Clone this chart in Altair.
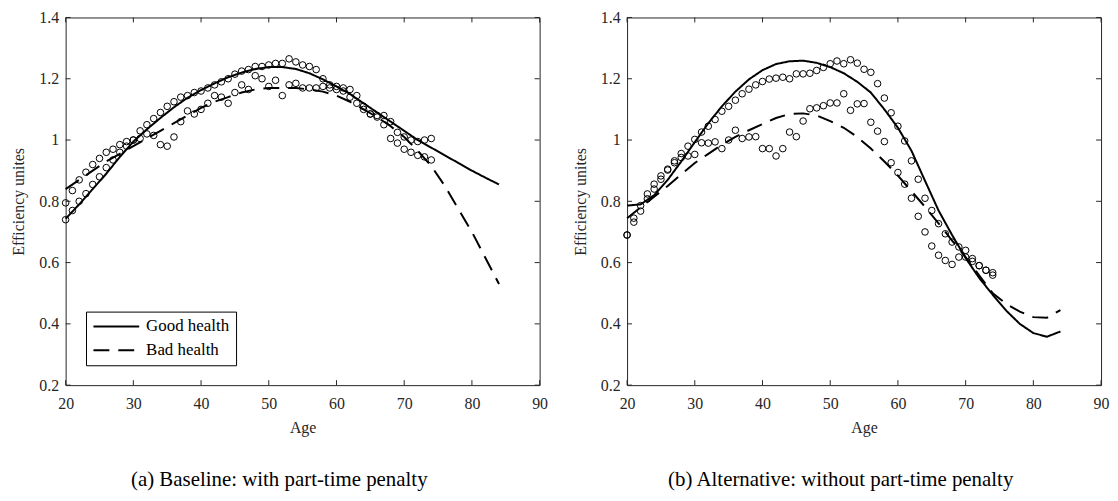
import altair as alt
import pandas as pd

# ---------------- data ----------------
ages_obs = list(range(20, 75))
ages_fit = list(range(20, 85, 2))

# (a) Baseline: with part-time penalty
left_obs_good = [0.74, 0.77, 0.80, 0.825, 0.855, 0.88, 0.91, 0.935, 0.96, 0.98,
                 1.00, 1.03, 1.05, 1.07, 1.09, 1.11, 1.125, 1.14, 1.145, 1.155,
                 1.16, 1.17, 1.18, 1.19, 1.20, 1.215, 1.225, 1.23, 1.24, 1.24,
                 1.245, 1.25, 1.25, 1.265, 1.255, 1.245, 1.24, 1.23, 1.20, 1.18,
                 1.175, 1.17, 1.165, 1.145, 1.11, 1.085, 1.08, 1.08, 1.06, 1.025,
                 1.01, 1.0, 0.995, 1.0, 1.005]
left_obs_bad = [0.795, 0.835, 0.87, 0.895, 0.92, 0.94, 0.96, 0.97, 0.985, 0.995,
                1.0, 1.005, 1.02, 1.015, 0.985, 0.98, 1.01, 1.06, 1.095, 1.085,
                1.10, 1.12, 1.145, 1.14, 1.12, 1.155, 1.18, 1.165, 1.21, 1.20,
                1.175, 1.195, 1.145, 1.18, 1.185, 1.17, 1.17, 1.17, 1.175, 1.17,
                1.165, 1.16, 1.14, 1.12, 1.10, 1.085, 1.075, 1.05, 1.005, 0.99,
                0.97, 0.96, 0.95, 0.945, 0.935]
left_fit_good = [0.743, 0.79, 0.84, 0.89, 0.945, 0.995, 1.035, 1.072, 1.107, 1.138,
                 1.163, 1.185, 1.205, 1.22, 1.232, 1.238, 1.238, 1.232, 1.218, 1.198,
                 1.175, 1.15, 1.12, 1.09, 1.06, 1.03, 1.0, 0.975, 0.95, 0.925,
                 0.9, 0.877, 0.855]
left_fit_bad = [0.84, 0.87, 0.90, 0.93, 0.955, 0.98, 1.005, 1.03, 1.055, 1.08,
                1.105, 1.125, 1.14, 1.155, 1.165, 1.17, 1.17, 1.17, 1.165, 1.158,
                1.145, 1.125, 1.10, 1.075, 1.045, 1.01, 0.965, 0.915, 0.85, 0.775,
                0.70, 0.615, 0.53]

# (b) Alternative: without part-time penalty
right_obs_good = [0.69, 0.745, 0.786, 0.824, 0.856, 0.883, 0.905, 0.932, 0.956, 0.98,
                  1.002, 1.026, 1.045, 1.067, 1.094, 1.11, 1.13, 1.151, 1.166, 1.18,
                  1.191, 1.199, 1.202, 1.205, 1.20, 1.216, 1.216, 1.218, 1.227, 1.237,
                  1.249, 1.258, 1.249, 1.262, 1.251, 1.231, 1.221, 1.184, 1.137, 1.089,
                  1.045, 0.997, 0.932, 0.872, 0.81, 0.77, 0.727, 0.694, 0.667, 0.651,
                  0.64, 0.613, 0.59, 0.575, 0.567]
right_obs_bad = [0.69, 0.732, 0.768, 0.808, 0.84, 0.872, 0.902, 0.926, 0.943, 0.948,
                 0.953, 0.991, 0.99, 0.994, 0.972, 1.0, 1.032, 1.005, 1.01, 1.011,
                 0.972, 0.972, 0.948, 0.972, 1.026, 1.011, 1.062, 1.102, 1.105, 1.112,
                 1.121, 1.121, 1.151, 1.097, 1.118, 1.119, 1.058, 1.029, 0.995, 0.926,
                 0.894, 0.856, 0.81, 0.751, 0.70, 0.654, 0.624, 0.607, 0.594, 0.618,
                 0.618, 0.604, 0.59, 0.575, 0.559]
right_fit_good = [0.786, 0.79, 0.82, 0.87, 0.93, 0.993, 1.055, 1.11, 1.158, 1.198,
                  1.228, 1.248, 1.257, 1.259, 1.252, 1.238, 1.218, 1.19, 1.155, 1.10,
                  1.04, 0.965, 0.867, 0.77, 0.69, 0.615, 0.55, 0.495, 0.443, 0.40,
                  0.37, 0.358, 0.375]
right_fit_bad = [0.745, 0.78, 0.815, 0.85, 0.888, 0.925, 0.955, 0.985, 1.01, 1.032,
                 1.052, 1.072, 1.085, 1.087, 1.08, 1.062, 1.04, 1.01, 0.972, 0.93,
                 0.884, 0.833, 0.782, 0.728, 0.672, 0.618, 0.558, 0.50, 0.465, 0.44,
                 0.422, 0.42, 0.445]

series_names = ["Good health", "Bad health"]
x_ticks = [20, 30, 40, 50, 60, 70, 80, 90]
y_ticks = [0.2, 0.4, 0.6, 0.8, 1.0, 1.2, 1.4]

W, H = 477, 370
TICK = 5
FONT = "Liberation Serif"
AX = "#262626"
NBSP = "\u00a0"


def panel(obs_good, obs_bad, fit_good, fit_bad, caption):
    obs = pd.DataFrame({
        "Age": ages_obs + ages_obs,
        "Value": obs_good + obs_bad,
        "Health": [series_names[0]] * len(ages_obs) + [series_names[1]] * len(ages_obs),
    })
    fit = pd.DataFrame({
        "Age": ages_fit + ages_fit,
        "Value": fit_good + fit_bad,
        "Health": [series_names[0]] * len(ages_fit) + [series_names[1]] * len(ages_fit),
    })
    xt = pd.DataFrame({"tx": x_ticks})
    yt = pd.DataFrame({"ty": y_ticks})
    xs = alt.Scale(domain=[20, 90], nice=False, zero=False)
    ys = alt.Scale(domain=[0.2, 1.4], nice=False, zero=False)
    xaxis = alt.Axis(orient="bottom", values=x_ticks, format="d", ticks=False, domain=False,
                     grid=False, labelPadding=11, title="Age", titlePadding=8, labelFlush=False)
    yaxis = alt.Axis(orient="left", values=y_ticks, format=".1~f", ticks=False, domain=False,
                     grid=False, labelPadding=7, title="Efficiency unites", titlePadding=12,
                     labelFlush=False)

    points = alt.Chart(obs).mark_point(
        shape="circle", filled=False, color="black", size=44, strokeWidth=1, opacity=1
    ).encode(
        x=alt.X("Age:Q", scale=xs, axis=xaxis),
        y=alt.Y("Value:Q", scale=ys, axis=yaxis),
        detail="Health:N",
    )

    lines = alt.Chart(fit).mark_line(color="black", strokeWidth=2).encode(
        x=alt.X("Age:Q", scale=xs, axis=xaxis),
        y=alt.Y("Value:Q", scale=ys, axis=yaxis),
        strokeDash=alt.StrokeDash(
            "Health:N",
            scale=alt.Scale(domain=series_names, range=[[1, 0], [16, 9]]),
            legend=alt.Legend(
                title=None, orient="none", legendX=20.5, legendY=296, direction="vertical",
                strokeColor="black", fillColor="white", padding=6.5,
                symbolType="stroke", symbolSize=2116, symbolStrokeWidth=2,
                symbolStrokeColor="black", labelFont=FONT, labelFontSize=17,
                labelColor="black", rowPadding=6, labelOffset=6, cornerRadius=0,
                clipHeight=17,
                labelExpr="datum.label + '" + NBSP + NBSP + "'",
            ),
        ),
        order="Age:Q",
    )

    rule = dict(color=AX, strokeWidth=1)
    bottom_ticks = alt.Chart(xt).mark_rule(**rule).encode(
        x=alt.X("tx:Q", scale=xs, axis=xaxis), y=alt.value(H), y2=alt.value(H - TICK))
    top_ticks = alt.Chart(xt).mark_rule(**rule).encode(
        x=alt.X("tx:Q", scale=xs, axis=xaxis), y=alt.value(0), y2=alt.value(TICK))
    left_ticks = alt.Chart(yt).mark_rule(**rule).encode(
        y=alt.Y("ty:Q", scale=ys, axis=yaxis), x=alt.value(0), x2=alt.value(TICK))
    right_ticks = alt.Chart(yt).mark_rule(**rule).encode(
        y=alt.Y("ty:Q", scale=ys, axis=yaxis), x=alt.value(W), x2=alt.value(W - TICK))

    return alt.layer(lines, points, bottom_ticks, top_ticks, left_ticks, right_ticks).properties(
        width=W, height=H,
        title=alt.TitleParams(caption, orient="bottom", anchor="middle", frame="bounds",
                              fontSize=21, font=FONT, fontWeight="normal", offset=33,
                              color="black"),
    )


left = panel(left_obs_good, left_obs_bad, left_fit_good, left_fit_bad,
             "(a) Baseline: with part-time penalty")
right = panel(right_obs_good, right_obs_bad, right_fit_good, right_fit_bad,
              "(b) Alternative: without part-time penalty")

chart = alt.hconcat(left, right, spacing=23).properties(
    padding={"left": 2, "top": -1, "right": 0, "bottom": 0},
    background="white",
).configure_view(
    stroke=AX, strokeWidth=1
).configure_axis(
    labelFont=FONT, labelFontSize=16, labelColor=AX,
    titleFont=FONT, titleFontSize=16, titleColor=AX, titleFontWeight="normal",
)

chart.save("out.html", embed_options={"renderer": "svg", "actions": False})
